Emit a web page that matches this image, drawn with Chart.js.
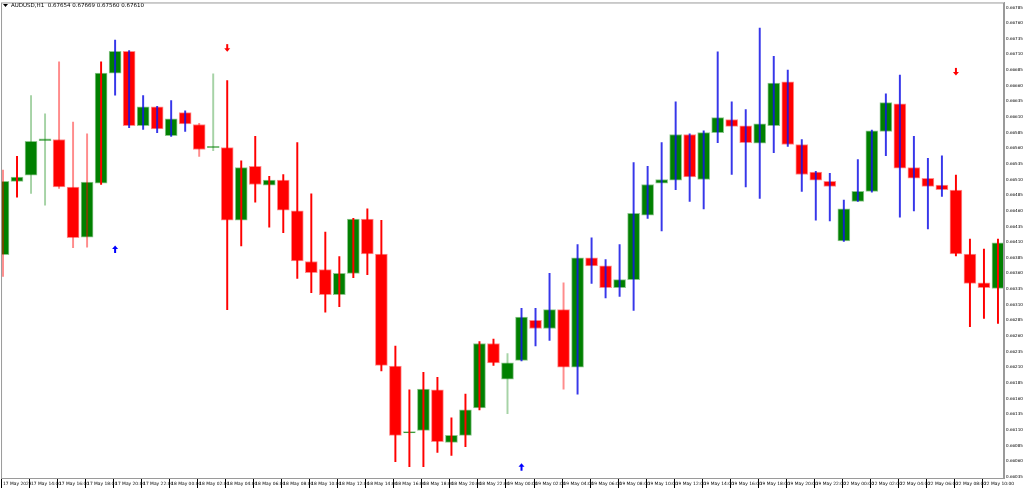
<!DOCTYPE html>
<html><head><meta charset="utf-8">
<script src="https://cdn.jsdelivr.net/npm/chart.js@4/dist/chart.umd.min.js"></script>
<style>html,body{margin:0;padding:0;background:#fff}canvas{display:block}</style>
</head><body><canvas id="c" width="1024" height="490"></canvas>
<script>
const times = [];
(function(){const days=[['17 May',12,23],['18 May',0,23],['19 May',0,23],['22 May',0,11]];
 for(const [d,a,b] of days) for(let h=a;h<=b;h++) times.push(d+' '+String(h).padStart(2,'0')+':00');})();
const tickLabels = times.map((t,i)=> i===0 ? '17 May 2023' : t);
// prices in units of 0.00001
const open  = [66390,66507,66517,66572,66574,66498,66418,66504,66680,66715,66596,66626,66580,66617,66598,66561,66561,66445,66531,66501,66509,66460,66379,66366,66326,66360,66447,66391,66212,66105,66109,66174,66090,66101,66145,66248,66191,66221,66285,66272,66302,66210,66385,66372,66337,66350,66453,66504,66509,66582,66510,66585,66606,66596,66568,66596,66666,66566,66522,66507,66412,66475,66491,66587,66631,66529,66512,66501,66493,66391,66345,66336];
const high  = [66525,66547,66644,66615,66698,66602,66583,66698,66733,66716,66644,66627,66636,66620,66600,66679,66668,66540,66579,66515,66518,66569,66487,66426,66387,66448,66463,66445,66244,66174,66202,66194,66129,66167,66251,66255,66232,66304,66304,66360,66345,66406,66417,66382,66406,66537,66531,66569,66634,66583,66588,66714,66634,66622,66752,66707,66685,66574,66523,66520,66477,66542,66589,66647,66677,66579,66544,66548,66517,66415,66399,66415];
const low   = [66355,66482,66488,66469,66496,66401,66402,66502,66645,66593,66590,66585,66579,66587,66547,66556,66302,66404,66474,66434,66425,66352,66329,66298,66307,66353,66358,66204,66059,66051,66051,66074,66069,66083,66142,66213,66136,66220,66244,66253,66175,66167,66344,66321,66323,66301,66448,66428,66494,66475,66463,66569,66518,66498,66480,66553,66563,66491,66445,66444,66411,66475,66490,66548,66450,66460,66431,66483,66388,66275,66288,66280];
const close = [66507,66514,66571,66575,66498,66417,66506,66680,66715,66596,66626,66591,66607,66599,66558,66563,66445,66529,66502,66509,66461,66380,66361,66326,66360,66447,66391,66213,66101,66107,66175,66091,66101,66142,66248,66217,66217,66290,66272,66302,66210,66385,66372,66337,66350,66456,66502,66510,66582,66514,66585,66609,66595,66569,66599,66664,66566,66518,66509,66499,66463,66491,66588,66633,66528,66512,66499,66494,66391,66344,66337,66409];
// wick tone per candle: r red, R light red, g light green, b blue
const wickTone = 'RrggRRRrbbbbbbRgrrrrrrrrrrrrrrrrrrrrgbbbRbbbbbbbbbbbbbbbbbbbbbbbbbbbrrrr'.split('');
const upArrows = [[8,66399],[37,66051]];
const downArrows = [[16,66720],[68,66682]];
const yTicks = []; for(let v=66035; v<=66785; v+=25) yTicks.push(v);
const P = v => v/100000;

const toneColor = {r:'#ff0000',R:'rgba(255,0,0,0.45)',g:'rgba(0,128,0,0.35)',b:'rgba(20,20,230,0.85)'};
const bodies = open.map((o,i)=>({x:i,y:[P(o),P(close[i])]}));
const wicks = open.map((o,i)=>({x:i,y:[P(low[i]),P(high[i])]}));
const bodyCol = open.map((o,i)=> close[i]>=o ? '#008000' : '#ff0000');
const bodyBorder = open.map((o,i)=> close[i]>=o ? 'rgba(0,128,0,0.45)' : 'rgba(255,0,0,0.45)');

const deco = {
  id:'deco',
  afterDatasetsDraw(ch){
    const c=ch.ctx, xs=ch.scales.x, ys=ch.scales.y, a=ch.chartArea;
    c.save();
    function arrow(i,v,up,col){
      const x=xs.getPixelForValue(i), y=ys.getPixelForValue(P(v));
      c.fillStyle=col; c.strokeStyle=col; c.lineWidth=2;
      c.beginPath();
      if(up){c.moveTo(x,y+4);c.lineTo(x,y-1);c.stroke();c.beginPath();c.moveTo(x-3,y);c.lineTo(x+3,y);c.lineTo(x,y-3.5);c.closePath();c.fill();}
      else {c.moveTo(x,y-4);c.lineTo(x,y+1);c.stroke();c.beginPath();c.moveTo(x-3,y);c.lineTo(x+3,y);c.lineTo(x,y+3.5);c.closePath();c.fill();}
    }
    upArrows.forEach(([i,v])=>arrow(i,v,true,'#0000ff'));
    downArrows.forEach(([i,v])=>arrow(i,v,false,'#ff0000'));
    c.strokeStyle='#9a9a9a'; c.lineWidth=1;
    c.strokeRect(a.left+0.5,a.top+0.5,a.right-a.left-1,a.bottom-a.top);
    c.strokeStyle='#000';
    xs.ticks.forEach(t=>{const x=Math.round(xs.getPixelForValue(t.value))-1.5; c.beginPath(); c.moveTo(x,a.bottom+1); c.lineTo(x,a.bottom+10); c.stroke();});
    c.fillStyle='#000';
    c.beginPath();c.moveTo(3,4);c.lineTo(8,4);c.lineTo(5.5,7);c.closePath();c.fill();
    c.font='5.5px "DejaVu Sans"'; c.textBaseline='middle';
    c.fillText('AUDUSD,H1  0.67654 0.67669 0.67560 0.67610',11,6);
    c.restore();
  }
};

new Chart(document.getElementById('c'),{
  type:'bar',
  data:{datasets:[
    {data:wicks, backgroundColor:wickTone.map(t=>toneColor[t]), barThickness:1.3, grouped:false, order:0},
    {data:bodies, backgroundColor:bodyCol, borderColor:bodyBorder, borderWidth:1, borderSkipped:false, barThickness:12, grouped:false, order:1}
  ]},
  options:{
    responsive:false, animation:false, devicePixelRatio:1,
    layout:{padding:{top:-3,left:0,right:0,bottom:0}},
    plugins:{legend:{display:false},tooltip:{enabled:false}},
    scales:{
      x:{type:'linear', min:-0.14, max:71.43, offset:false,
        grid:{display:false, drawTicks:false},
        border:{color:'#9a9a9a'},
        afterBuildTicks(s){ s.ticks = []; for(let i=0;i<72;i+=2) s.ticks.push({value:i}); },
        afterFit(s){ s.height=12; },
        ticks:{autoSkip:false, maxRotation:0, align:'start', padding:3, color:'#000', font:{size:4.4,family:'DejaVu Sans'},
          callback:(v)=> tickLabels[v] }
      },
      y:{position:'right', min:P(66033), max:P(66793),
        grid:{display:false, drawTicks:true, tickLength:2, tickColor:'#000'},
        border:{color:'#9a9a9a'},
        afterBuildTicks(s){ s.ticks = yTicks.map(v=>({value:P(v)})); },
        afterFit(s){ s.width=20; },
        ticks:{autoSkip:false, padding:0, color:'#000', font:{size:4.1,family:'DejaVu Sans'},
          callback:(v)=> v.toFixed(5)}
      }
    }
  },
  plugins:[deco]
});
</script></body></html>
